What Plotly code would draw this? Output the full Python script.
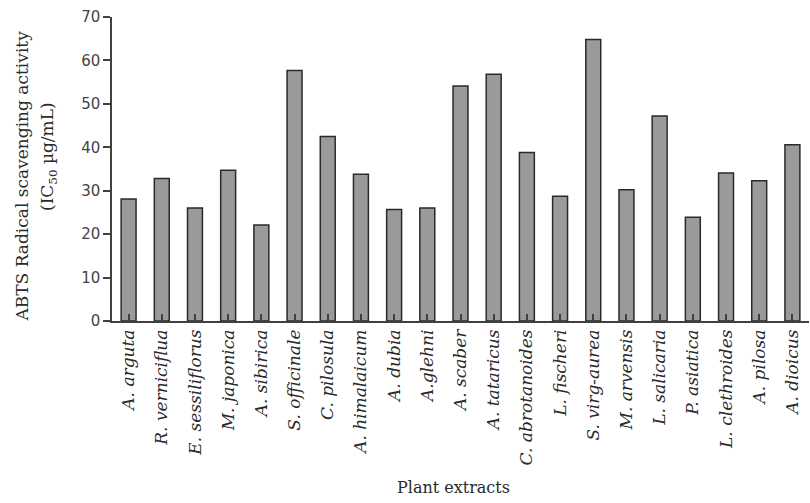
import plotly.graph_objects as go

plants = [
    "A. arguta", "R. verniciflua", "E. sessiliflorus", "M. japonica", "A. sibirica",
    "S. officinale", "C. pilosula", "A. himalaicum", "A. dubia", "A.glehni",
    "A. scaber", "A. tataricus", "C. abrotanoides", "L. fischeri", "S. virg-aurea",
    "M. arvensis", "L. salicaria", "P. asiatica", "L. clethroides", "A. pilosa",
    "A. dioicus",
]
ic50 = [28.1, 32.8, 26.0, 34.7, 22.1, 57.7, 42.5, 33.8, 25.7, 26.0,
        54.1, 56.8, 38.8, 28.7, 64.8, 30.2, 47.2, 23.9, 34.1, 32.3, 40.6]
y_ticks = [0, 10, 20, 30, 40, 50, 60, 70]

SERIF = "DejaVu Serif"
SANS = "DejaVu Sans"
AXIS = "#404040"
TEXT = "#2a2a2a"

L, R, T, B = 112, 1, 17, 182
W, H = 810, 503

fig = go.Figure(
    go.Bar(
        x=list(range(len(plants))),
        y=ic50,
        marker=dict(color="#9a9a9a", line=dict(color="#2a2a2a", width=1.5)),
        width=0.45,
    )
)

fig.update_layout(
    width=W, height=H,
    margin=dict(l=L, r=R, t=T, b=B),
    paper_bgcolor="white", plot_bgcolor="white",
    showlegend=False,
    font=dict(family=SERIF, color=TEXT, size=15),
)

fig.update_xaxes(
    range=[-0.5, len(plants) - 0.5],
    tickmode="array",
    tickvals=list(range(len(plants))),
    ticktext=[f"<i>{p}</i>" for p in plants],
    tickangle=-90,
    ticks="inside", tickson="boundaries", ticklen=7, tickcolor=AXIS, tickwidth=1.5,
    showline=True, linecolor=AXIS, linewidth=1.5,
    showgrid=False, zeroline=False,
    tickfont=dict(family=SERIF, size=17, color=TEXT),
)

fig.update_yaxes(
    range=[0, 70],
    tickmode="array", tickvals=y_ticks,
    ticks="outside", ticklen=7, tickcolor=AXIS, tickwidth=1.5,
    showline=True, linecolor=AXIS, linewidth=1.5,
    showgrid=False, zeroline=False,
    tickfont=dict(family=SANS, size=15, color="#444444"),
)

plot_w = W - L - R
plot_h = H - T - B


def px_x(px):
    return (px - L) / plot_w


def px_y(py):
    return (H - B - py) / plot_h


# axis titles
fig.add_annotation(text="Plant extracts", xref="paper", yref="paper",
                   x=px_x(453), y=px_y(487), showarrow=False,
                   xanchor="center", yanchor="middle",
                   font=dict(family=SERIF, size=16, color=TEXT))
fig.add_annotation(text="ABTS Radical scavenging activity", xref="paper", yref="paper",
                   x=px_x(21.5), y=px_y(176), showarrow=False, textangle=-90,
                   xanchor="center", yanchor="middle",
                   font=dict(family=SERIF, size=17, color=TEXT))
fig.add_annotation(text="(IC<sub>50</sub> µg/mL)", xref="paper", yref="paper",
                   x=px_x(48), y=px_y(157), showarrow=False, textangle=-90,
                   xanchor="center", yanchor="middle",
                   font=dict(family=SERIF, size=17, color=TEXT))

fig.write_html("out.html")
